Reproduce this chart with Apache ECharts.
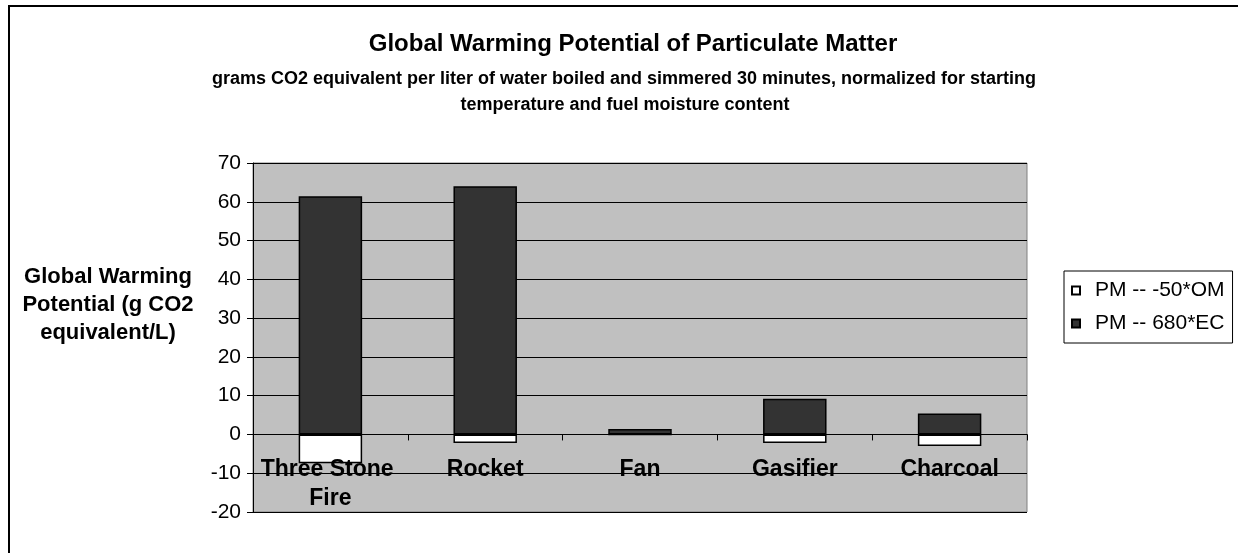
<!DOCTYPE html>
<html><head><meta charset="utf-8">
<script src="https://cdn.jsdelivr.net/npm/echarts@6/dist/echarts.min.js"></script>
<style>html,body{margin:0;padding:0;background:#fff}#c{width:1238px;height:553px}</style>
</head><body><div id="c"></div>
<script>
const categories = ['Three Stone Fire', 'Rocket', 'Fan', 'Gasifier', 'Charcoal'];
const seriesNames = ['PM -- -50*OM', 'PM -- 680*EC'];
const omValues = [-7.4, -2.2, 0, -2.2, -3.0];
const ecValues = [61.4, 64.0, 1.4, 9.2, 5.4];
const yTicks = { min: -20, max: 70, interval: 10 };
const titleText = 'Global Warming Potential of Particulate Matter';
const subtitleLines = ['grams CO2 equivalent per liter of water boiled and simmered 30 minutes, normalized for starting', 'temperature and fuel moisture content'];
const yAxisTitle = ['Global Warming', 'Potential (g CO2', 'equivalent/L)'];

const FF = '"Liberation Sans", Arial, sans-serif';
const chart = echarts.init(document.getElementById('c'), null, { renderer: 'canvas' });
chart.setOption({
  animation: false,
  backgroundColor: '#fff',
  textStyle: { fontFamily: FF, color: '#000' },
  graphic: [
    { type: 'rect', shape: { x: 9, y: 6, width: 1400, height: 700 }, style: { fill: 'none', stroke: '#000', lineWidth: 2 }, silent: true, z: -10 },
    { type: 'text', x: 633, y: 44, style: { text: titleText, font: 'bold 24px ' + FF, fill: '#000', textAlign: 'center', textVerticalAlign: 'middle' } },
    { type: 'text', x: 624, y: 79, style: { text: subtitleLines[0], font: 'bold 18px ' + FF, fill: '#000', textAlign: 'center', textVerticalAlign: 'middle' } },
    { type: 'text', x: 625, y: 105, style: { text: subtitleLines[1], font: 'bold 18px ' + FF, fill: '#000', textAlign: 'center', textVerticalAlign: 'middle' } },
    { type: 'text', x: 108, y: 305, style: { text: yAxisTitle.join('\n'), font: 'bold 22px ' + FF, lineHeight: 28, fill: '#000', textAlign: 'center', textVerticalAlign: 'middle' } }
  ],
  legend: {
    orient: 'vertical',
    left: 1064, top: 271,
    padding: [9, 8, 9, 7],
    itemGap: 12,
    itemWidth: 8, itemHeight: 8,
    icon: 'rect',
    borderColor: '#000', borderWidth: 1,
    textStyle: { fontSize: 21, fontFamily: FF, color: '#000', padding: [0, 0, 0, 10] },
    data: seriesNames
  },
  grid: {
    left: 253, right: 211, top: 163, bottom: 41,
    show: true, backgroundColor: '#c0c0c0', borderColor: '#808080', borderWidth: 1,
    containLabel: false, outerBoundsMode: 'none'
  },
  xAxis: {
    type: 'category',
    data: categories,
    z: 5,
    axisLine: { onZero: true, lineStyle: { color: '#000', width: 1 } },
    axisTick: { show: true, length: 6, lineStyle: { color: '#000' } },
    axisLabel: { interval: 0, fontSize: 23, fontWeight: 'bold', fontFamily: FF, color: '#000', margin: -57, lineHeight: 29, width: 150, overflow: 'break' },
    splitLine: { show: false }
  },
  yAxis: {
    type: 'value',
    min: yTicks.min, max: yTicks.max, interval: yTicks.interval,
    axisLine: { show: true, lineStyle: { color: '#000' } },
    axisTick: { show: true, length: 6, lineStyle: { color: '#000' } },
    axisLabel: { fontSize: 21, fontFamily: FF, color: '#000', margin: 12 },
    splitLine: { show: true, lineStyle: { color: '#000', width: 1 } }
  },
  series: [
    { name: seriesNames[0], type: 'bar', stack: 'pm', data: omValues, barWidth: '41%',
      itemStyle: { color: '#ffffff', borderColor: '#000', borderWidth: 1.5 } },
    { name: seriesNames[1], type: 'bar', stack: 'pm', data: ecValues, barWidth: '41%',
      itemStyle: { color: '#333333', borderColor: '#000', borderWidth: 1.5 } }
  ]
});
</script></body></html>
